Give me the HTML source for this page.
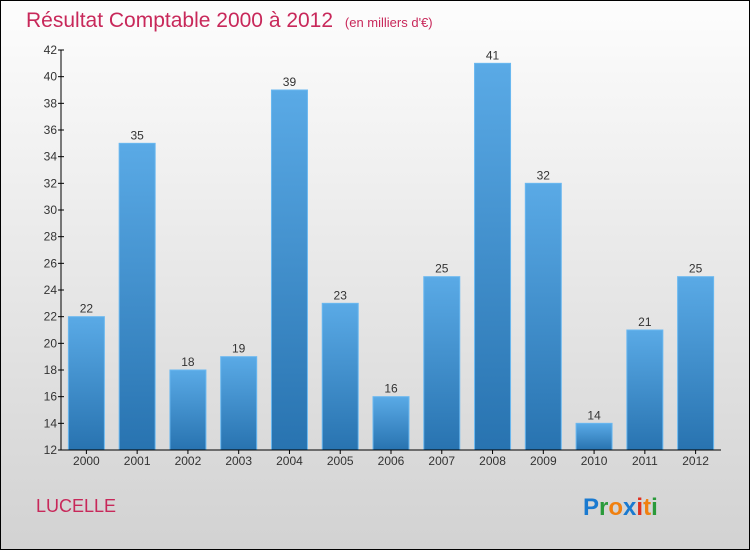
<!DOCTYPE html>
<html><head><meta charset="utf-8"><style>
html,body{margin:0;padding:0}
body{width:750px;height:550px;overflow:hidden;font-family:"Liberation Sans",sans-serif}
</style></head><body>
<svg id="c" width="750" height="550" xmlns="http://www.w3.org/2000/svg">
<defs>
<linearGradient id="bg" x1="0" y1="0" x2="0" y2="1"><stop offset="0" stop-color="#fdfdfd"/><stop offset="1" stop-color="#d2d2d2"/></linearGradient>
<linearGradient id="bar" x1="0" y1="0" x2="0" y2="1"><stop offset="0" stop-color="#5aaae6"/><stop offset="1" stop-color="#2873b0"/></linearGradient>
</defs>
<rect x="0.5" y="0.5" width="749" height="549" fill="url(#bg)" stroke="#000"/>
<text x="26" y="27" font-size="21" fill="#c8285a">Résultat Comptable 2000 à 2012 <tspan font-size="13" dx="6">(en milliers d'€)</tspan></text>
<text x="36" y="512" font-size="18" fill="#c8285a">LUCELLE</text>
<g font-size="24" font-weight="bold">
<text x="583" y="515"><tspan fill="#1a7ad0">P</tspan><tspan fill="#2a9a3a">r</tspan><tspan fill="#f08010">o</tspan><tspan fill="#1a7ad0">x</tspan><tspan fill="#e03020">i</tspan><tspan fill="#f08010">t</tspan><tspan fill="#2a9a3a">i</tspan></text>
</g>
<g id="plot"></g>
</svg>
<script>
const categories=["2000","2001","2002","2003","2004","2005","2006","2007","2008","2009","2010","2011","2012"];
const values=[22,35,18,19,39,23,16,25,41,32,14,21,25];
const yTicks=[12,14,16,18,20,22,24,26,28,30,32,34,36,38,40,42];
const NS="http://www.w3.org/2000/svg";
const g=document.getElementById("plot");
const x0=61,x1=721,yTop=50,yBot=450,yMin=12,yMax=42;
const y=v=>yBot-(v-yMin)/(yMax-yMin)*(yBot-yTop);
const step=(x1-x0)/categories.length;
const xc=i=>x0+step*(i+0.5);
function mk(t,a){const e=document.createElementNS(NS,t);for(const k in a)e.setAttribute(k,a[k]);g.appendChild(e);return e;}
values.forEach((v,i)=>{
 const r=mk("rect",{x:xc(i)-18,y:y(v),width:36,height:yBot-y(v),fill:"url(#bar)",stroke:"#6ab8f0","stroke-width":1});
 
 
 const t=mk("text",{x:xc(i),y:y(v)-4,"text-anchor":"middle","font-size":12,fill:"#333"});
 t.textContent=v;
 
 
 const c=mk("text",{x:xc(i),y:465,"text-anchor":"middle","font-size":12,fill:"#333"});
 c.textContent=categories[i];
 
 
 const tk=mk("line",{x1:xc(i),x2:xc(i),y1:yBot,y2:yBot+4,stroke:"#000"});
 
 
});
yTicks.forEach(v=>{
 const l=mk("line",{x1:x0-3,x2:x0+3,y1:y(v),y2:y(v),stroke:"#000"});
 
 
 const t=mk("text",{x:x0-4,y:y(v)+4,"text-anchor":"end","font-size":12,fill:"#333"});
 t.textContent=v;
 
 
});
const ya=mk("line",{x1:x0,x2:x0,y1:yTop,y2:yBot,stroke:"#000"});


const xa=mk("line",{x1:x0,x2:x1,y1:yBot,y2:yBot,stroke:"#000"});


</script>
</body></html>
